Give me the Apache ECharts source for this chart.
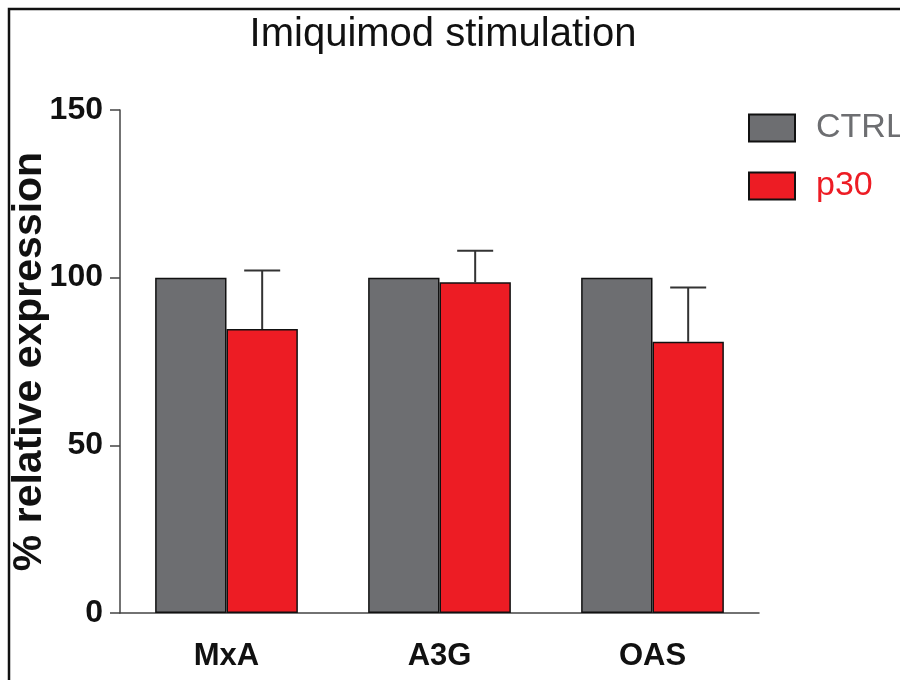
<!DOCTYPE html>
<html>
<head>
<meta charset="utf-8">
<script src="https://cdn.jsdelivr.net/npm/echarts@6/dist/echarts.min.js"></script>
<style>
    html, body { margin: 0; padding: 0; background: #fff; }
    #chart { width: 900px; height: 680px; }
</style>
</head>
<body>
<div id="chart"></div>
<script>
// values
const categories = ['MxA', 'A3G', 'OAS'];
const ctrlValues = [100, 100, 100];
const p30Values = [84.7, 98.6, 80.9];
const p30Errors = [17.4, 9.4, 16.2];
const yTicks = [0, 50, 100, 150];

const grey = '#6d6e71';
const red = '#ed1c24';
const catGap = 0.33;

const myChart = echarts.init(document.getElementById('chart'));

const errData = p30Values.map((v, i) => [i, v, v + p30Errors[i]]);

const option = {
    animation: false,
    textStyle: { fontFamily: 'Liberation Sans' },
    title: {
        text: 'Imiquimod stimulation',
        left: 438,
        textAlign: 'center',
        top: 10,
        textStyle: { fontSize: 40, fontWeight: 'normal', color: '#111', fontFamily: 'Liberation Sans' }
    },
    graphic: [{
        type: 'rect',
        shape: { x: 9, y: 9, width: 1000, height: 800 },
        style: { fill: 'none', stroke: '#111', lineWidth: 2.5 },
        silent: true
    }],
    legend: {
        orient: 'vertical',
        left: 743,
        top: 106,
        icon: 'rect',
        itemWidth: 46,
        itemHeight: 27,
        itemGap: 24,
        data: [
            { name: 'CTRL', textStyle: { color: grey } },
            { name: 'p30', textStyle: { color: red } }
        ],
        textStyle: { fontSize: 34, padding: [0, 0, 0, 16], fontFamily: 'Liberation Sans' }
    },
    grid: { left: 120, right: 141, top: 110, bottom: 67, containLabel: false, outerBoundsMode: 'none' },
    xAxis: {
        type: 'category',
        data: categories,
        axisLine: { lineStyle: { color: '#444', width: 1.5 } },
        axisTick: { alignWithLabel: true, length: 14, lineStyle: { color: '#444', width: 1.5 } },
        axisLabel: { fontSize: 31, fontWeight: 'bold', color: '#111', margin: 28, fontFamily: 'Liberation Sans' }
    },
    yAxis: {
        type: 'value',
        min: 0,
        max: 150,
        interval: 50,
        name: '% relative expression',
        nameLocation: 'middle',
        nameRotate: 90,
        nameGap: 70,
        nameMoveOverlap: false,
        nameTextStyle: { fontSize: 41, fontWeight: 'bold', color: '#111', fontFamily: 'Liberation Sans' },
        axisLine: { show: true, lineStyle: { color: '#444', width: 1.5 } },
        axisTick: { show: true, length: 10, lineStyle: { color: '#444', width: 1.5 } },
        splitLine: { show: false },
        axisLabel: {
            fontSize: 32, fontWeight: 'bold', color: '#111', margin: 17, fontFamily: 'Liberation Sans',
            formatter: v => yTicks.indexOf(v) >= 0 ? String(v) : ''
        }
    },
    series: [
        {
            name: 'CTRL',
            type: 'bar',
            data: ctrlValues,
            barGap: '0%',
            barCategoryGap: (catGap * 100) + '%',
            itemStyle: { color: grey, borderColor: '#111', borderWidth: 1.5 }
        },
        {
            name: 'p30',
            type: 'bar',
            data: p30Values,
            itemStyle: { color: red, borderColor: '#111', borderWidth: 1.5 }
        },
        {
            name: 'p30 err',
            type: 'custom',
            data: errData,
            z: 10,
            renderItem: (params, api) => {
                const band = api.size([1, 0])[0];
                const offset = band * (1 - catGap) / 4;
                const base = api.coord([api.value(0), api.value(1)]);
                const top = api.coord([api.value(0), api.value(2)]);
                const x = base[0] + offset;
                const half = 18;
                const style = { stroke: '#333', lineWidth: 2 };
                return {
                    type: 'group',
                    children: [
                        { type: 'line', shape: { x1: x, y1: base[1], x2: x, y2: top[1] }, style },
                        { type: 'line', shape: { x1: x - half, y1: top[1], x2: x + half, y2: top[1] }, style }
                    ]
                };
            }
        }
    ]
};

myChart.setOption(option);
</script>
</body>
</html>
